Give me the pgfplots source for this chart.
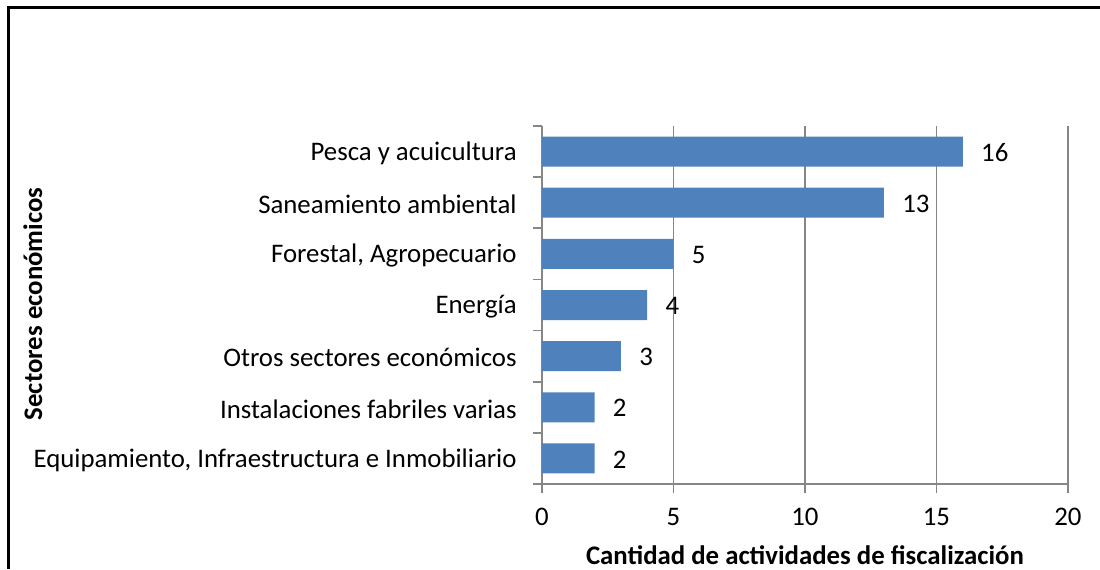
\documentclass[border=0pt]{standalone}
\usepackage{fontspec}
\setmainfont{Carlito}
\usepackage{pgfplots}
\pgfplotsset{compat=1.18}
\definecolor{barblue}{HTML}{4F81BD}
\definecolor{axgray}{HTML}{868686}
\begin{document}
\begin{tikzpicture}
\useasboundingbox (0,0) rectangle (550pt,284.5pt);
\draw[black, line width=1.5pt] (4pt,0pt) -- (4pt,280.5pt) -- (550pt,280.5pt);
\begin{axis}[
  at={(271pt,42.5pt)}, anchor=south west,
  scale only axis, width=263pt, height=179pt,
  xbar, bar width=15pt,
  xmin=0, xmax=20, ymin=-0.5, ymax=6.5,
  xtick={0,5,10,15,20},
  ytick={-0.5,0.5,...,6.5},
  yticklabels={},
  extra y ticks={0,...,6},
  extra y tick labels={{Equipamiento, Infraestructura e Inmobiliario}, Instalaciones fabriles varias, Otros sectores económicos, Energía, {Forestal, Agropecuario}, Saneamiento ambiental, Pesca y acuicultura},
  extra y tick style={major tick length=0pt, yticklabel style={anchor=east, inner sep=0pt, xshift=-12.5pt, yshift=-0.8pt}},
  axis x line*=bottom, axis y line*=left,
  axis line style={axgray, line width=0.9pt, -},
  tick align=outside,
  major tick length=4.5pt,
  tick style={draw=axgray, line width=0.9pt},
  xmajorgrids, grid style={axgray, line width=0.9pt},
  every tick label/.append style={font=\fontsize{13.4pt}{15pt}\selectfont},
  /pgf/number format/assume math mode=true,
  xticklabel style={anchor=north, inner sep=0pt, yshift=-7.5pt},
  xlabel={Cantidad de actividades de fiscalización},
  ylabel={Sectores económicos},
  label style={font=\bfseries\fontsize{13.4pt}{15pt}\selectfont},
  xlabel style={at={(axis description cs:0.5,-0.198)}, anchor=center},
  ylabel style={at={(axis description cs:-0.968,0.503)}, anchor=center},
  nodes near coords,
  nodes near coords style={anchor=west, inner sep=0pt, xshift=9pt, yshift=-0.5pt, font=\fontsize{13.4pt}{15pt}\selectfont, black},
]
\addplot[fill=barblue, draw=none] coordinates {(2,0) (2,1) (3,2) (4,3) (5,4) (13,5) (16,6)};
\end{axis}
\end{tikzpicture}
\end{document}
